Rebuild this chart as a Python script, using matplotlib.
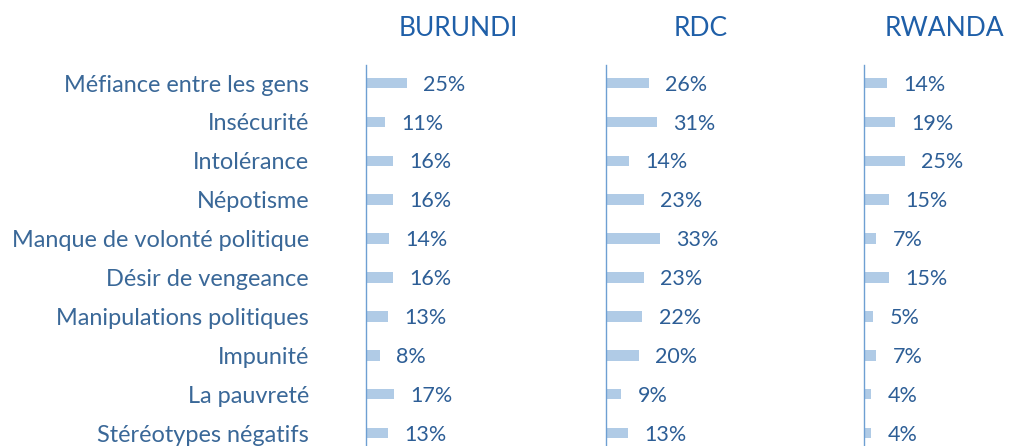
import matplotlib.pyplot as plt
from matplotlib.transforms import blended_transform_factory

plt.rcParams['font.family'] = ['Lato', 'DejaVu Sans']

causes = ["Méfiance entre les gens", "Insécurité", "Intolérance", "Népotisme",
          "Manque de volonté politique", "Désir de vengeance",
          "Manipulations politiques", "Impunité", "La pauvreté",
          "Stéréotypes négatifs"]
countries = ["BURUNDI", "RDC", "RWANDA"]
burundi = [25, 11, 16, 16, 14, 16, 13, 8, 17, 13]
rdc = [26, 31, 14, 23, 33, 23, 22, 20, 9, 13]
rwanda = [14, 19, 25, 15, 7, 15, 5, 7, 4, 4]
values = [burundi, rdc, rwanda]

W, H = 1009, 446
fig = plt.figure(figsize=(W / 100, H / 100), dpi=100)

axis_x = [366, 606, 864]          # pixel x of each vertical axis line
header_off = [58, 59, 50.5]       # header centre, in % units from axis
px_per_pct = 1.6
row0, step = 83, 38.9
top_px = 65
ymin = (H - row0) / step
ymax = (top_px - row0) / step

bar_color = "#b0cbe6"
line_color = "#6e9fd2"
text_color = "#2d5e96"

for k, (name, vals) in enumerate(zip(countries, values)):
    width_px = 140
    ax = fig.add_axes([axis_x[k] / W, 0, width_px / W, (H - top_px) / H])
    ax.set_xlim(0, width_px / px_per_pct)
    ax.set_ylim(ymin, ymax)
    y = range(len(causes))
    ax.barh(y, vals, height=0.27, color=bar_color, left=0.6)
    for yi, v in zip(y, vals):
        ax.annotate(f"{v}%", (v, yi), xytext=(12.5, -1.2), textcoords="offset points",
                    ha="left", va="center", fontsize=15.5, color=text_color)
    for s in ["top", "right", "bottom"]:
        ax.spines[s].set_visible(False)
    ax.spines["left"].set_color(line_color)
    ax.spines["left"].set_linewidth(1.0)
    ax.set_xticks([])
    if k == 0:
        ax.set_yticks(list(y))
        ax.set_yticklabels(causes, fontsize=16.9, color="#3a6898")
        ax.tick_params(axis="y", length=0, pad=41)
    else:
        ax.set_yticks([])
    ax.patch.set_alpha(0)
    tr = blended_transform_factory(ax.transData, fig.transFigure)
    ax.text(header_off[k], 1 - 28 / H, name, transform=tr, ha="center", va="center",
            fontsize=19, color="#1f5fa8", clip_on=False)

fig.savefig("out.png", dpi=100)
